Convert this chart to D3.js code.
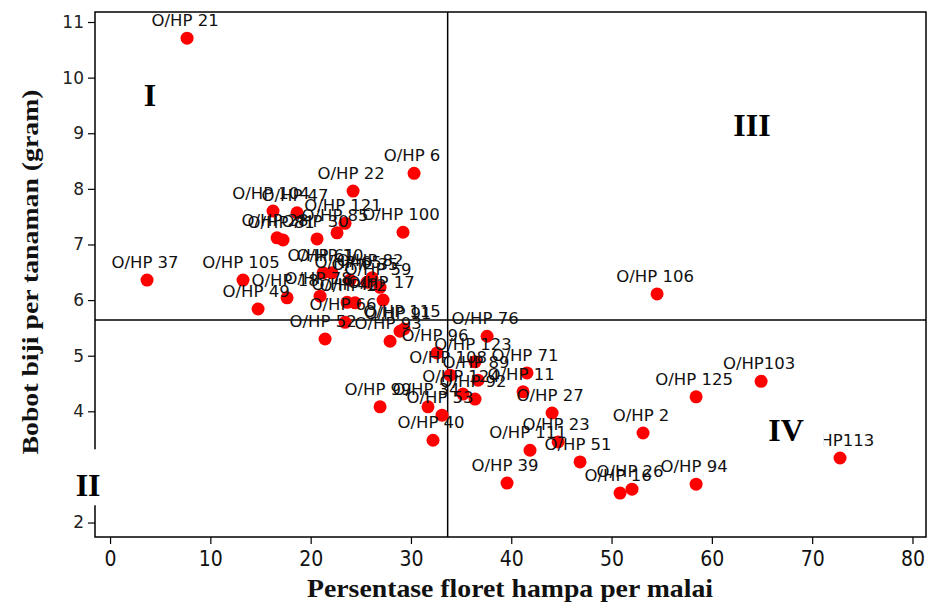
<!DOCTYPE html>
<html><head><meta charset="utf-8">
<script src="https://cdn.jsdelivr.net/npm/d3@7"></script>
<style>body{margin:0;background:#fff}svg{display:block}</style>
</head><body><svg id="c" width="927" height="608"></svg>
<script>
const labels = ["O/HP 21","O/HP 6","O/HP 22","O/HP 104","O/HP 47","O/HP 121","O/HP 85","O/HP 100","O/HP 28","O/HP 81","O/HP 30","O/HP 37","O/HP 105","O/HP 49","O/HP 18","O/HP 61","O/HP 10","O/HP 65","O/HP 82","O/HP 59","O/HP 17","O/HP 12","O/HP 78","O/HP 42","O/HP 35","O/HP 66","O/HP 52","O/HP 93","O/HP 91","O/HP 115","O/HP 96","O/HP 108","O/HP 99","O/HP 34","O/HP 53","O/HP 40","O/HP 76","O/HP 123","O/HP 89","O/HP 71","O/HP 124","O/HP 92","O/HP 11","O/HP 27","O/HP 23","O/HP 111","O/HP 51","O/HP 39","O/HP 16","O/HP 26","O/HP 2","O/HP 94","O/HP 125","O/HP103","O/HP113","O/HP 106"];
const xVals = [7.68,30.31,24.23,16.25,18.64,23.43,22.63,29.21,16.65,17.25,20.64,3.69,13.26,14.76,17.65,21.24,22.13,23.93,26.12,26.92,27.22,24.43,20.94,23.63,25.62,23.43,21.44,27.92,28.91,29.31,32.60,33.90,26.92,31.70,33.10,32.20,37.59,36.39,36.69,41.57,35.19,36.39,41.18,44.07,44.67,41.87,46.86,39.58,50.85,52.04,53.14,58.43,58.43,64.91,72.78,54.54];
const yVals = [10.71,8.28,7.96,7.60,7.57,7.38,7.21,7.22,7.12,7.08,7.10,6.36,6.36,5.84,6.04,6.49,6.49,6.36,6.40,6.23,6.00,5.95,6.07,5.96,6.32,5.60,5.30,5.26,5.44,5.48,5.05,4.65,4.08,4.08,3.93,3.48,5.35,4.89,4.56,4.69,4.31,4.22,4.35,3.97,3.45,3.30,3.09,2.71,2.53,2.60,3.61,2.69,4.26,4.54,3.16,6.11];
const xTicks = [0,10,20,30,40,50,60,70,80];
const yTicks = [2,3,4,5,6,7,8,9,10,11];
const refX = 33.66, refY = 5.64;
const quadNames = ["I","II","III","IV"];
const quadX = [3.99,-2.19,64.0,67.4];
const quadY = [9.69,2.67,9.15,3.66];
const xTitle = "Persentase floret hampa per malai";
const yTitle = "Bobot biji per tanaman (gram)";

const svg = d3.select("#c");
const L=95, R=926, T=12, B=537;
const x = d3.scaleLinear().domain([-1.5,81.35]).range([L,R]);
const y = d3.scaleLinear().domain([1.74,11.18]).range([B,T]);

svg.append("rect").attr("x",L).attr("y",T).attr("width",R-L).attr("height",B-T)
  .attr("fill","none").attr("stroke","#000").attr("stroke-width",1.5);

const xa = svg.append("g").attr("transform",`translate(0,${B})`)
  .call(d3.axisBottom(x).tickValues(xTicks).tickSize(7).tickSizeOuter(0).tickFormat(d3.format("d")));
xa.select(".domain").remove();
xa.selectAll("line").attr("stroke","#000").attr("stroke-width",1.2);
xa.selectAll("text").attr("font-family","'Liberation Sans Narrow','Arial Narrow','DejaVu Sans Condensed',sans-serif")
  .attr("font-size",21).attr("fill","#111").attr("dy","0.9em");

const ya = svg.append("g").attr("transform",`translate(${L},0)`)
  .call(d3.axisLeft(y).tickValues(yTicks).tickSize(7).tickSizeOuter(0).tickFormat(d3.format("d")));
ya.select(".domain").remove();
ya.selectAll("line").attr("stroke","#000").attr("stroke-width",1.2);
ya.selectAll("text").attr("font-family","'DejaVu Sans',Verdana,sans-serif")
  .attr("font-size",17).attr("fill","#222").attr("x",-11);

svg.append("line").attr("x1",x(refX)).attr("x2",x(refX)).attr("y1",T).attr("y2",B)
  .attr("stroke","#000").attr("stroke-width",1.5);
svg.append("line").attr("x1",L).attr("x2",R).attr("y1",y(refY)).attr("y2",y(refY))
  .attr("stroke","#000").attr("stroke-width",1.5);

svg.append("g").selectAll("circle").data(labels).join("circle")
  .attr("cx",(d,i)=>x(xVals[i])).attr("cy",(d,i)=>y(yVals[i])).attr("r",6.5).attr("fill","#ff0000");

svg.append("g").selectAll("text").data(labels).join("text")
  .attr("x",(d,i)=>x(xVals[i])-2).attr("y",(d,i)=>y(yVals[i])-12)
  .attr("text-anchor","middle").attr("font-family","'DejaVu Sans',Verdana,sans-serif")
  .attr("font-size",16.5).attr("fill","#111").text(d=>d);

// quadrant labels with white backing: [top, bottom, left/right] padding
const pads = [null,[18,2,16],null,[4,4,20]];
const qg = svg.append("g");
quadNames.forEach((q,i)=>{
  const g = qg.append("g");
  const t = g.append("text").attr("x",x(quadX[i])).attr("y",y(quadY[i]))
    .attr("text-anchor","middle").attr("dominant-baseline","central")
    .attr("font-family","'Liberation Serif','Times New Roman',serif").attr("font-weight","bold")
    .attr("font-size",32).attr("fill","#000").text(q);
  const bb = t.node().getBBox();
  const p = pads[i];
  if (p) {
    g.insert("rect","text").attr("x",bb.x-p[2]).attr("y",bb.y-p[0])
      .attr("width",bb.width+2*p[2]).attr("height",bb.height+p[0]+p[1]).attr("fill","#fff");
  }
});

svg.append("text").attr("x",510).attr("y",597).attr("text-anchor","middle")
  .attr("font-family","'Liberation Serif','Times New Roman',serif").attr("font-weight","bold")
  .attr("font-size",25).attr("textLength",406).attr("lengthAdjust","spacingAndGlyphs").attr("fill","#111").text(xTitle);
svg.append("text").attr("transform","translate(30,272) rotate(-90)").attr("text-anchor","middle")
  .attr("dominant-baseline","central")
  .attr("font-family","'Liberation Serif','Times New Roman',serif").attr("font-weight","bold")
  .attr("font-size",23).attr("textLength",365).attr("lengthAdjust","spacingAndGlyphs").attr("fill","#111").text(yTitle);
</script></body></html>
